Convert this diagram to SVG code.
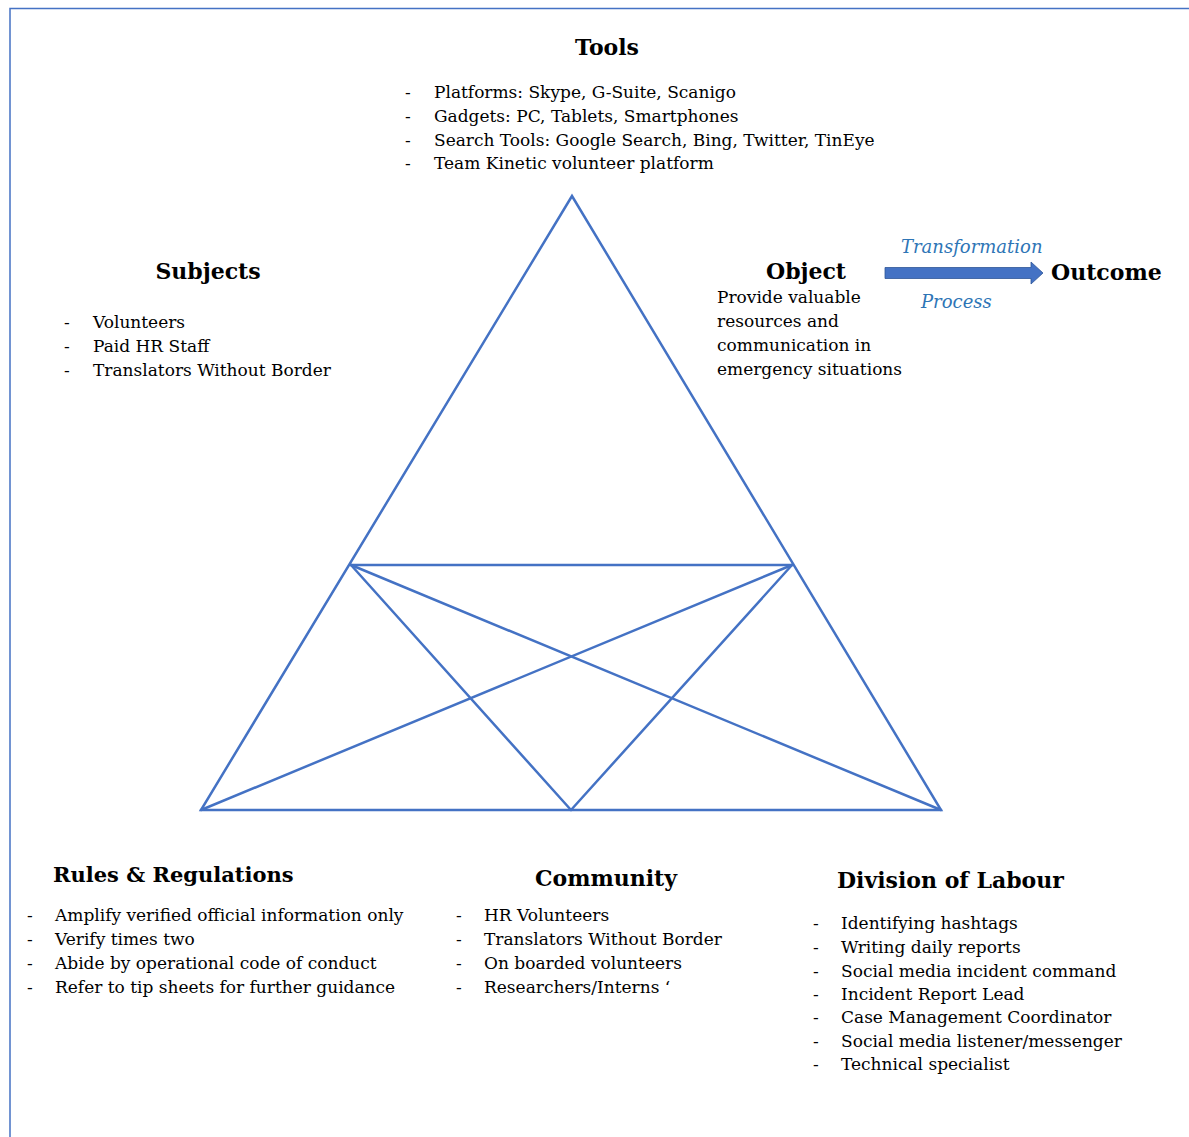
<svg xmlns="http://www.w3.org/2000/svg" width="1189" height="1137" viewBox="0 0 1189 1137">
  <style>
    .frame { stroke: #4472C4; stroke-width: 1.5; fill: none; }
    .edge { stroke: #4472C4; stroke-width: 2.5; fill: none; stroke-linecap: round; }
    .head { font-family: "DejaVu Serif", "Liberation Serif", serif; font-weight: bold; font-size: 22px; fill: #000; }
    .body { font-family: "DejaVu Serif", "Liberation Serif", serif; font-size: 17px; fill: #000; }
    .flow { font-family: "DejaVu Serif", "Liberation Serif", serif; font-style: italic; font-size: 18px; fill: #2E75B6; }
  </style>
  <rect width="1189" height="1137" fill="#fff"/>
  <!-- page frame -->
  <path class="frame" d="M10,1137 V8.5 H1189"/>

  <!-- activity-system triangle -->
  <g id="connectors">
    <path class="edge" d="M572,196 L201,810 L941,810 Z"/>
    <line class="edge" x1="351" y1="565" x2="792" y2="565"/>
    <line class="edge" x1="351" y1="565" x2="571" y2="810"/>
    <line class="edge" x1="792" y1="565" x2="571" y2="810"/>
    <line class="edge" x1="351" y1="565" x2="941" y2="810"/>
    <line class="edge" x1="792" y1="565" x2="201" y2="810"/>
    <!-- object to outcome arrow -->
    <path d="M885,267.5 H1031 V262 L1043,273 L1031,284 V278.5 H885 Z" fill="#4472C4" stroke="#2F5597" stroke-width="0.8"/>
  </g>

  <g id="tools">
    <text class="head" x="607" y="55" text-anchor="middle">Tools</text>
    <g class="body">
      <text x="405" y="98">-</text><text x="434" y="98">Platforms: Skype, G-Suite, Scanigo</text>
      <text x="405" y="122">-</text><text x="434" y="122">Gadgets: PC, Tablets, Smartphones</text>
      <text x="405" y="146">-</text><text x="434" y="146">Search Tools: Google Search, Bing, Twitter, TinEye</text>
      <text x="405" y="169">-</text><text x="434" y="169">Team Kinetic volunteer platform</text>
    </g>
  </g>

  <g id="subjects">
    <text class="head" x="208" y="279" text-anchor="middle">Subjects</text>
    <g class="body">
      <text x="64" y="328">-</text><text x="93" y="328">Volunteers</text>
      <text x="64" y="352">-</text><text x="93" y="352">Paid HR Staff</text>
      <text x="64" y="376">-</text><text x="93" y="376">Translators Without Border</text>
    </g>
  </g>

  <g id="object">
    <text class="head" x="806" y="279" text-anchor="middle">Object</text>
    <g class="body">
      <text x="717" y="303">Provide valuable</text>
      <text x="717" y="327">resources and</text>
      <text x="717" y="351">communication in</text>
      <text x="717" y="375">emergency situations</text>
    </g>
  </g>

  <g id="process">
    <text class="flow" x="901" y="253">Transformation</text>
    <text class="flow" x="921" y="308">Process</text>
  </g>

  <g id="outcome">
    <text class="head" x="1051" y="280">Outcome</text>
  </g>

  <g id="rules">
    <text class="head" x="53" y="882" style="font-size:21px">Rules &amp; Regulations</text>
    <g class="body">
      <text x="27" y="921">-</text><text x="55" y="921">Amplify verified official information only</text>
      <text x="27" y="945">-</text><text x="55" y="945">Verify times two</text>
      <text x="27" y="969">-</text><text x="55" y="969">Abide by operational code of conduct</text>
      <text x="27" y="993">-</text><text x="55" y="993">Refer to tip sheets for further guidance</text>
    </g>
  </g>

  <g id="community">
    <text class="head" x="606" y="886" text-anchor="middle">Community</text>
    <g class="body">
      <text x="456" y="921">-</text><text x="484" y="921">HR Volunteers</text>
      <text x="456" y="945">-</text><text x="484" y="945">Translators Without Border</text>
      <text x="456" y="969">-</text><text x="484" y="969">On boarded volunteers</text>
      <text x="456" y="993">-</text><text x="484" y="993">Researchers/Interns ‘</text>
    </g>
  </g>

  <g id="division">
    <text class="head" x="837" y="888">Division of Labour</text>
    <g class="body">
      <text x="813" y="929">-</text><text x="841" y="929">Identifying hashtags</text>
      <text x="813" y="953">-</text><text x="841" y="953">Writing daily reports</text>
      <text x="813" y="977">-</text><text x="841" y="977">Social media incident command</text>
      <text x="813" y="1000">-</text><text x="841" y="1000">Incident Report Lead</text>
      <text x="813" y="1023">-</text><text x="841" y="1023">Case Management Coordinator</text>
      <text x="813" y="1047">-</text><text x="841" y="1047">Social media listener/messenger</text>
      <text x="813" y="1070">-</text><text x="841" y="1070">Technical specialist</text>
    </g>
  </g>
</svg>
